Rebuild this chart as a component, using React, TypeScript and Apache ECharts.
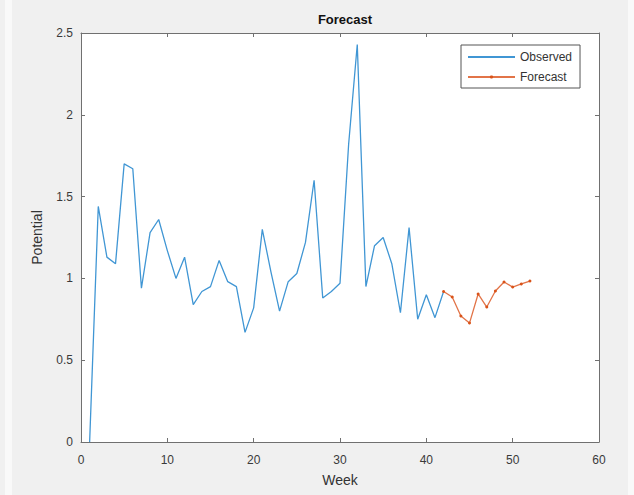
import React, { useEffect, useRef } from "react";
import * as echarts from "echarts";

const observedWeeks = [1,2,3,4,5,6,7,8,9,10,11,12,13,14,15,16,17,18,19,20,21,22,23,24,25,26,27,28,29,30,31,32,33,34,35,36,37,38,39,40,41,42];
const observedValues = [0,1.44,1.13,1.09,1.70,1.67,0.94,1.28,1.36,1.17,1.00,1.13,0.84,0.92,0.95,1.11,0.98,0.95,0.67,0.82,1.30,1.04,0.80,0.98,1.03,1.22,1.60,0.88,0.92,0.97,1.82,2.43,0.95,1.20,1.25,1.09,0.79,1.31,0.75,0.90,0.76,0.92];
const forecastWeeks = [42,43,44,45,46,47,48,49,50,51,52];
const forecastValues = [0.92,0.886,0.77,0.727,0.905,0.825,0.923,0.978,0.947,0.966,0.984];
const xTicks = [0, 10, 20, 30, 40, 50, 60];
const yTicks = [0, 0.5, 1, 1.5, 2, 2.5];

const FONT = "'Liberation Sans', Arial, Helvetica, sans-serif";

export default function App() {
  const ref = useRef<HTMLDivElement>(null);
  useEffect(() => {
    if (!ref.current) return;
    const chart = echarts.init(ref.current, undefined, { renderer: "svg" });
    const mkLine = () => ({ show: true, onZero: false, lineStyle: { color: "#707070", width: 1 } });
    const mkTick = () => ({ show: true, inside: true, length: 4, lineStyle: { color: "#707070" } });
    chart.setOption({
      animation: false,
      backgroundColor: "transparent",
      title: {
        text: "Forecast",
        left: 340,
        textAlign: "center",
        top: 8,
        textStyle: { fontFamily: FONT, fontSize: 13, fontWeight: "bold", color: "#111" },
      },
      legend: {
        orient: "vertical",
        left: 461,
        top: 45,
        padding: [5, 8, 4, 6],
        itemWidth: 47,
        itemHeight: 4,
        itemGap: 6,
        backgroundColor: "#ffffff",
        borderColor: "#555",
        borderWidth: 1,
        textStyle: { fontFamily: FONT, fontSize: 12, color: "#333", lineHeight: 14 },
        data: [
          { name: "Observed", itemStyle: { opacity: 0 } },
          { name: "Forecast" },
        ],
      },
      grid: { left: 81, top: 33, width: 518, height: 409, containLabel: false, show: false },
      xAxis: [
        {
          type: "value",
          min: xTicks[0],
          max: xTicks[xTicks.length - 1],
          interval: 10,
          position: "bottom",
          name: "Week",
          nameLocation: "middle",
          nameGap: 31,
          nameTextStyle: { fontFamily: FONT, fontSize: 14, color: "#333" },
          axisLine: mkLine(),
          axisTick: mkTick(),
          splitLine: { show: false },
          axisLabel: { fontFamily: FONT, fontSize: 12, color: "#3a3a3a", margin: 12 },
        },
        {
          type: "value",
          min: xTicks[0],
          max: xTicks[xTicks.length - 1],
          interval: 10,
          position: "top",
          axisLine: mkLine(),
          axisTick: mkTick(),
          splitLine: { show: false },
          axisLabel: { show: false },
        },
      ],
      yAxis: [
        {
          type: "value",
          min: yTicks[0],
          max: yTicks[yTicks.length - 1],
          interval: 0.5,
          position: "left",
          name: "Potential",
          nameLocation: "middle",
          nameGap: 37,
          nameTextStyle: { fontFamily: FONT, fontSize: 14, color: "#333" },
          axisLine: mkLine(),
          axisTick: mkTick(),
          splitLine: { show: false },
          axisLabel: { fontFamily: FONT, fontSize: 12, color: "#3a3a3a", margin: 8 },
        },
        {
          type: "value",
          min: yTicks[0],
          max: yTicks[yTicks.length - 1],
          interval: 0.5,
          position: "right",
          axisLine: mkLine(),
          axisTick: mkTick(),
          splitLine: { show: false },
          axisLabel: { show: false },
        },
      ],
      series: [
        {
          name: "Observed",
          type: "line",
          data: observedWeeks.map((w, i) => [w, observedValues[i]]),
          symbol: "none",
          lineStyle: { color: "#4096d4", width: 1.3 },
          itemStyle: { color: "#4096d4" },
        },
        {
          name: "Forecast",
          type: "line",
          data: forecastWeeks.map((w, i) => [w, forecastValues[i]]),
          symbol: "circle",
          symbolSize: 3,
          lineStyle: { color: "#e27448", width: 1.3 },
          itemStyle: { color: "#d95319" },
        },
      ],
    });
    return () => chart.dispose();
  }, []);
  return (
    <div style={{ position: "fixed", left: 0, top: 0, width: 634, height: 495, background: "#f0f0f0", overflow: "hidden" }}>
      <div style={{ position: "absolute", left: 5, top: 0, width: 7, height: 495, background: "#f9f9f9" }} />
      <div style={{ position: "absolute", left: 628, top: 0, width: 6, height: 495, background: "#f9f9f9" }} />
      <div style={{ position: "absolute", left: 81, top: 33, width: 518, height: 409, background: "#ffffff" }} />
      <div ref={ref} style={{ position: "absolute", left: 0, top: 0, width: 634, height: 495 }} />
    </div>
  );
}
